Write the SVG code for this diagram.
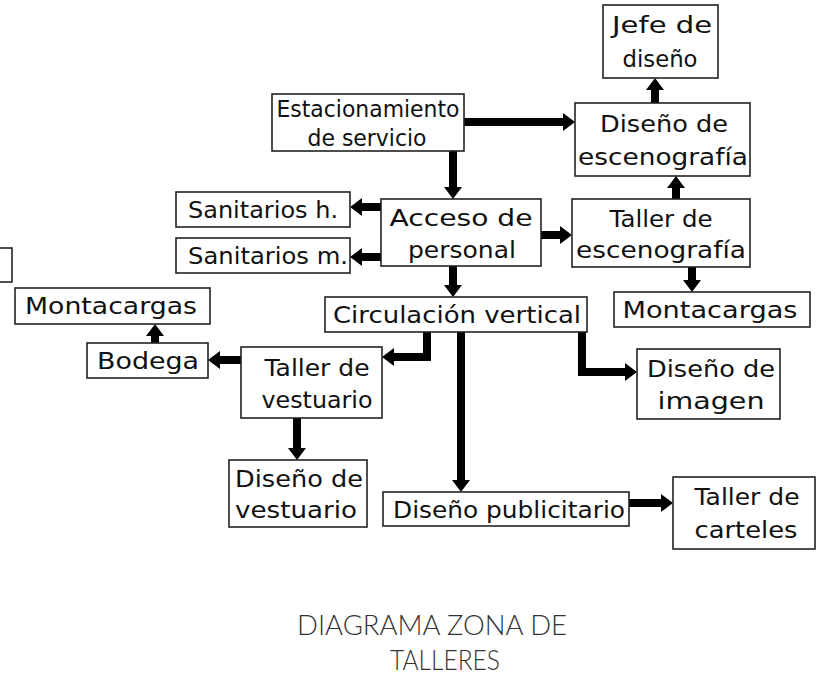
<svg xmlns="http://www.w3.org/2000/svg" width="824" height="676" viewBox="0 0 824 676">
<defs>
<style>
.box{fill:#fff;stroke:#222;stroke-width:1.6}
.t{font-family:"DejaVu Sans","Liberation Sans",sans-serif;font-size:23px;fill:#111;text-anchor:middle}
.c{fill:none;stroke:#000;stroke-width:8;stroke-linejoin:miter}
.title{font-family:"Lato","Open Sans",sans-serif;font-weight:300;font-size:27px;fill:#333;text-anchor:middle}
</style>
<marker id="ah" viewBox="0 0 12 18" markerWidth="12" markerHeight="18" markerUnits="userSpaceOnUse" refX="0" refY="9" orient="auto">
<path d="M0,0 L12,9 L0,18 z" fill="#000"/>
</marker>
</defs>
<rect width="824" height="676" fill="#fff"/>
<g id="connectors">
<path class="c" marker-end="url(#ah)" d="M464,122 H563"/>
<path class="c" marker-end="url(#ah)" d="M453,151 V187"/>
<path class="c" marker-end="url(#ah)" d="M655,103 V90"/>
<path class="c" marker-end="url(#ah)" d="M676,199 V188"/>
<path class="c" marker-end="url(#ah)" d="M692,267 V280"/>
<path class="c" marker-end="url(#ah)" d="M381,207 H362"/>
<path class="c" marker-end="url(#ah)" d="M381,257 H362"/>
<path class="c" marker-end="url(#ah)" d="M541,235 H560"/>
<path class="c" marker-end="url(#ah)" d="M453,266 V285"/>
<path class="c" marker-end="url(#ah)" d="M427,332 V357 H394"/>
<path class="c" marker-end="url(#ah)" d="M461,332 V480"/>
<path class="c" marker-end="url(#ah)" d="M582,332 V372 H625"/>
<path class="c" marker-end="url(#ah)" d="M241,360 H220"/>
<path class="c" marker-end="url(#ah)" d="M155,343 V336"/>
<path class="c" marker-end="url(#ah)" d="M297,418 V448"/>
<path class="c" marker-end="url(#ah)" d="M629,503 H661"/>
</g>
<g id="jefe"><rect class="box" x="603" y="5" width="115" height="73"/><text class="t" x="662" y="33" textLength="100" lengthAdjust="spacingAndGlyphs">Jefe de</text><text class="t" x="660" y="67" textLength="75" lengthAdjust="spacingAndGlyphs">diseño</text></g>
<g id="disesc"><rect class="box" x="575" y="103" width="175" height="73"/><text class="t" x="664" y="132" textLength="128" lengthAdjust="spacingAndGlyphs">Diseño de</text><text class="t" x="663" y="165" textLength="170" lengthAdjust="spacingAndGlyphs">escenografía</text></g>
<g id="tallesc"><rect class="box" x="572" y="199" width="178" height="68"/><text class="t" x="661" y="227" textLength="103" lengthAdjust="spacingAndGlyphs">Taller de</text><text class="t" x="661" y="258" textLength="170" lengthAdjust="spacingAndGlyphs">escenografía</text></g>
<g id="montR"><rect class="box" x="614" y="292" width="196" height="35"/><text class="t" x="710" y="318" textLength="175" lengthAdjust="spacingAndGlyphs">Montacargas</text></g>
<g id="estac"><rect class="box" x="272" y="94" width="192" height="57"/><text class="t" x="368" y="117" textLength="183" lengthAdjust="spacingAndGlyphs">Estacionamiento</text><text class="t" x="367" y="146" textLength="119" lengthAdjust="spacingAndGlyphs">de servicio</text></g>
<g id="acceso"><rect class="box" x="381" y="199" width="160" height="67"/><text class="t" x="461" y="226" textLength="143" lengthAdjust="spacingAndGlyphs">Acceso de</text><text class="t" x="462" y="258" textLength="108" lengthAdjust="spacingAndGlyphs">personal</text></g>
<g id="sanh"><rect class="box" x="176" y="192" width="174" height="35"/><text class="t" x="263" y="218" textLength="150" lengthAdjust="spacingAndGlyphs">Sanitarios h.</text></g>
<g id="sanm"><rect class="box" x="176" y="238" width="174" height="35"/><text class="t" x="268" y="264" textLength="160" lengthAdjust="spacingAndGlyphs">Sanitarios m.</text></g>
<g id="partial"><rect class="box" x="-10" y="248" width="22" height="34"/></g>
<g id="circ"><rect class="box" x="325" y="297" width="262" height="35"/><text class="t" x="457" y="323" textLength="248" lengthAdjust="spacingAndGlyphs">Circulación vertical</text></g>
<g id="montL"><rect class="box" x="15" y="288" width="195" height="36"/><text class="t" x="111" y="314" textLength="172" lengthAdjust="spacingAndGlyphs">Montacargas</text></g>
<g id="bodega"><rect class="box" x="87" y="343" width="121" height="35"/><text class="t" x="148" y="369" textLength="102" lengthAdjust="spacingAndGlyphs">Bodega</text></g>
<g id="tallvest"><rect class="box" x="241" y="347" width="141" height="71"/><text class="t" x="317" y="376" textLength="105" lengthAdjust="spacingAndGlyphs">Taller de</text><text class="t" x="317" y="408" textLength="111" lengthAdjust="spacingAndGlyphs">vestuario</text></g>
<g id="disvest"><rect class="box" x="229" y="460" width="138" height="67"/><text class="t" x="299" y="487" textLength="128" lengthAdjust="spacingAndGlyphs">Diseño de</text><text class="t" x="296" y="518" textLength="122" lengthAdjust="spacingAndGlyphs">vestuario</text></g>
<g id="disimg"><rect class="box" x="637" y="349" width="143" height="70"/><text class="t" x="711" y="377" textLength="128" lengthAdjust="spacingAndGlyphs">Diseño de</text><text class="t" x="711" y="409" textLength="107" lengthAdjust="spacingAndGlyphs">imagen</text></g>
<g id="dispub"><rect class="box" x="383" y="492" width="246" height="34"/><text class="t" x="509" y="518" textLength="232" lengthAdjust="spacingAndGlyphs">Diseño publicitario</text></g>
<g id="tallcart"><rect class="box" x="673" y="477" width="142" height="72"/><text class="t" x="747" y="505" textLength="105" lengthAdjust="spacingAndGlyphs">Taller de</text><text class="t" x="746" y="538" textLength="103" lengthAdjust="spacingAndGlyphs">carteles</text></g>
<g id="title"><text class="title" x="432" y="635" textLength="270" lengthAdjust="spacingAndGlyphs">DIAGRAMA ZONA DE</text><text class="title" x="445" y="670" textLength="110" lengthAdjust="spacingAndGlyphs">TALLERES</text></g>
</svg>
